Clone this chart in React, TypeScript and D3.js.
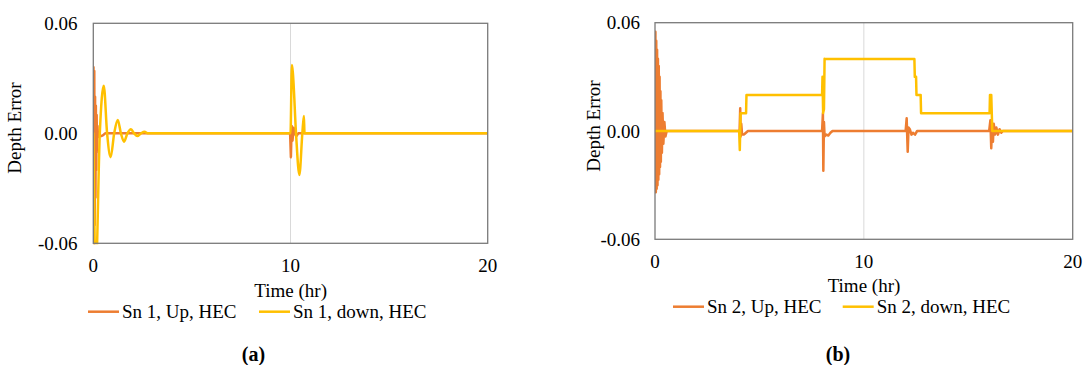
import React from 'react';
import * as d3 from 'd3';

// ---------- data ----------
const xTicks = [0, 10, 20];
const yTicks = [-0.06, 0, 0.06];
const xDomain = [0, 20];
const yDomain = [-0.06, 0.06];
const xTitle = 'Time (hr)';
const yTitle = 'Depth Error';
const panelTags = ['(a)', '(b)'];
const namesA = ['Sn 1, Up, HEC', 'Sn 1, down, HEC'];
const namesB = ['Sn 2, Up, HEC', 'Sn 2, down, HEC'];

// (a) Sn 1, Up
const aUpTime = [0, 0.01, 0.03, 0.05, 0.07, 0.09, 0.11, 0.13, 0.15, 0.17, 0.19, 0.21, 0.24, 0.3, 0.4, 0.5, 0.6,
  9.98, 10.02, 10.06, 10.1, 10.16, 10.2, 10.3, 10.4, 20];
const aUpValue = [0.035, 0.036, -0.07, 0.034, -0.05, 0.02, -0.035, 0.015, -0.02, 0.01, -0.01, 0.004, -0.002, -0.001, -0.0015, -0.001, 0,
  0, -0.013, 0.004, -0.004, 0.003, 0, -0.0015, 0, 0];
// (a) Sn 1, down
const aDownTime = [0, 0.12, 0.33, 0.53, 0.7, 0.88, 1.06, 1.24, 1.4, 1.56, 1.73, 1.91, 2.07, 2.23, 2.42, 2.6, 2.75,
  10.0, 10.07, 10.12, 10.28, 10.45, 10.6, 10.68, 10.71, 20];
const aDownValue = [0, -0.078, 0, 0.026, 0, -0.013, 0, 0.0073, 0, -0.0046, 0, 0.0022, 0, -0.0015, 0, 0.0008, 0,
  0, 0.0373, 0.033, 0, -0.0227, 0, 0.0094, 0, 0];

// (b) Sn 2, Up
const bUpTime = [0, 0.02, 0.04, 0.06, 0.08, 0.1, 0.12, 0.14, 0.16, 0.18, 0.2, 0.22, 0.24, 0.26, 0.28, 0.3, 0.33, 0.36, 0.4, 0.45, 0.5, 0.56,
  4.0, 4.05, 4.08, 4.1, 4.13, 4.17, 4.25, 4.3, 4.45,
  8.0, 8.04, 8.06, 8.09, 8.12, 8.2, 8.3, 8.4, 8.5,
  12.0, 12.05, 12.1, 12.14, 12.2, 12.28, 12.35, 12.45, 12.55,
  16.0, 16.06, 16.1, 16.14, 16.18, 16.22, 16.28, 16.34, 16.42, 16.5, 16.58, 16.65, 20];
const bUpValue = [0, 0.055, -0.034, 0.05, -0.032, 0.045, -0.03, 0.04, -0.027, 0.036, -0.024, 0.03, -0.02, 0.022, -0.017, 0.017, -0.012, 0.01, -0.007, 0.005, -0.003, 0,
  0, 0, 0.0126, -0.003, 0.004, -0.002, -0.002, -0.0015, 0,
  0, 0.0098, -0.022, 0.005, -0.003, -0.002, -0.0025, -0.001, 0,
  0, 0.007, -0.0115, 0.002, 0.001, -0.002, -0.001, -0.002, 0,
  0, 0.006, -0.0096, 0.003, -0.006, 0.004, -0.002, 0.002, -0.002, 0.001, -0.001, 0, 0];
// (b) Sn 2, down
const bDownTime = [0, 4.03, 4.06, 4.08, 4.1, 4.12, 4.36, 4.38, 8.0, 8.02, 8.05, 8.09, 8.12, 8.14,
  12.42, 12.44, 12.5, 12.52, 12.72, 12.74, 16.02, 16.04, 16.1, 16.15, 20];
const bDownValue = [0, 0, -0.0105, 0, 0.0098, 0.0098, 0.0098, 0.0199, 0.0199, 0.03, 0.01, 0.012, 0.04, 0.0399,
  0.0399, 0.03, 0.03, 0.02, 0.02, 0.0098, 0.0098, 0.02, 0.02, 0, 0];

const COLORS = ['#ED7D31', '#FFC000'];
const FONT = 'Liberation Serif, Tinos, Times New Roman, Times, DejaVu Serif, serif';

type Layout = {
  id: string;
  x0: number; x1: number; y0: number; y1: number;
  yTickRight: number; xTickBase: number;
  titleX: number; titleBase: number;
  yTitleX: number; yTitleY: number;
  legendY: number; leg1: number; leg2: number;
  tagX: number; tagBase: number;
};

const layoutA: Layout = {
  id: 'a', x0: 93.3, x1: 487.7, y0: 23.3, y1: 243.3,
  yTickRight: 77.5, xTickBase: 272, titleX: 290.7, titleBase: 297,
  yTitleX: 21, yTitleY: 128, legendY: 311.7, leg1: 88, leg2: 259,
  tagX: 253.5, tagBase: 361,
};
const layoutB: Layout = {
  id: 'b', x0: 655, x1: 1072.7, y0: 22.7, y1: 239.3,
  yTickRight: 640, xTickBase: 268, titleX: 864, titleBase: 292,
  yTitleX: 600, yTitleY: 126, legendY: 306.7, leg1: 673, leg2: 842.7,
  tagX: 838, tagBase: 361,
};

type Series = { name: string; t: number[]; v: number[]; curve: d3.CurveFactory };

const txt = { fontFamily: FONT, fontSize: '19px', fill: '#000' } as React.CSSProperties;

function Panel({ L, series, tag }: { L: Layout; series: Series[]; tag: string }) {
  const x = d3.scaleLinear().domain(xDomain).range([L.x0, L.x1]);
  const y = d3.scaleLinear().domain(yDomain).range([L.y1, L.y0]);
  const fmt = (v: number) => d3.format('.2f')(v).replace('\u2212', '-');
  const clipId = 'clip-' + L.id;
  return (
    <g>
      <defs>
        <clipPath id={clipId}>
          <rect x={L.x0} y={L.y0 - 1} width={L.x1 - L.x0} height={L.y1 - L.y0 + 2} />
        </clipPath>
      </defs>
      {xTicks.filter((t) => t > xDomain[0] && t < xDomain[1]).map((t) => (
        <line key={'gx' + t} x1={x(t)} x2={x(t)} y1={L.y0} y2={L.y1} stroke="#d9d9d9" strokeWidth={1} />
      ))}
      <g clipPath={`url(#${clipId})`}>
        {series.map((s, i) => {
          const pts = s.t.map((t, k) => [t, s.v[k]] as [number, number]);
          const line = d3.line<[number, number]>().x((d) => x(d[0])).y((d) => y(d[1])).curve(s.curve);
          return (
            <path key={s.name} d={line(pts) || ''} fill="none" stroke={COLORS[i]} strokeWidth={2.5}
              strokeLinejoin="round" strokeLinecap="round" />
          );
        })}
      </g>
      <rect x={L.x0} y={L.y0} width={L.x1 - L.x0} height={L.y1 - L.y0} fill="none" stroke="#7a7a7a" strokeWidth={1.3} />
      {yTicks.map((t) => (
        <text key={'yt' + t} x={L.yTickRight} y={y(t)} dy="0.35em" textAnchor="end" style={txt}>
          {fmt(t)}
        </text>
      ))}
      {xTicks.map((t) => (
        <text key={'xt' + t} x={x(t)} y={L.xTickBase} textAnchor="middle" style={txt}>
          {t}
        </text>
      ))}
      <text x={L.titleX} y={L.titleBase} textAnchor="middle" style={txt}>{xTitle}</text>
      <text transform={`translate(${L.yTitleX},${L.yTitleY}) rotate(-90)`} textAnchor="middle" style={txt}>
        {yTitle}
      </text>
      {series.map((s, i) => {
        const lx = i === 0 ? L.leg1 : L.leg2;
        return (
          <g key={'lg' + i}>
            <line x1={lx} x2={lx + 31} y1={L.legendY} y2={L.legendY} stroke={COLORS[i]} strokeWidth={2.5} />
            <text x={lx + 34} y={L.legendY} dy="0.35em" style={txt}>{s.name}</text>
          </g>
        );
      })}
      <text x={L.tagX} y={L.tagBase} textAnchor="middle" style={{ ...txt, fontSize: '20px', fontWeight: 'bold' }}>{tag}</text>
    </g>
  );
}

export default function App() {
  const seriesA: Series[] = [
    { name: namesA[0], t: aUpTime, v: aUpValue, curve: d3.curveLinear },
    { name: namesA[1], t: aDownTime, v: aDownValue, curve: d3.curveMonotoneX },
  ];
  const seriesB: Series[] = [
    { name: namesB[0], t: bUpTime, v: bUpValue, curve: d3.curveLinear },
    { name: namesB[1], t: bDownTime, v: bDownValue, curve: d3.curveLinear },
  ];
  return (
    <svg width={1085} height={365} fontFamily={FONT}
      style={{ position: 'absolute', left: 0, top: 0, display: 'block', background: '#fff', fontFamily: FONT }}>
      <rect x={0} y={0} width={1085} height={365} fill="#fff" />
      <Panel L={layoutA} series={seriesA} tag={panelTags[0]} />
      <Panel L={layoutB} series={seriesB} tag={panelTags[1]} />
    </svg>
  );
}
